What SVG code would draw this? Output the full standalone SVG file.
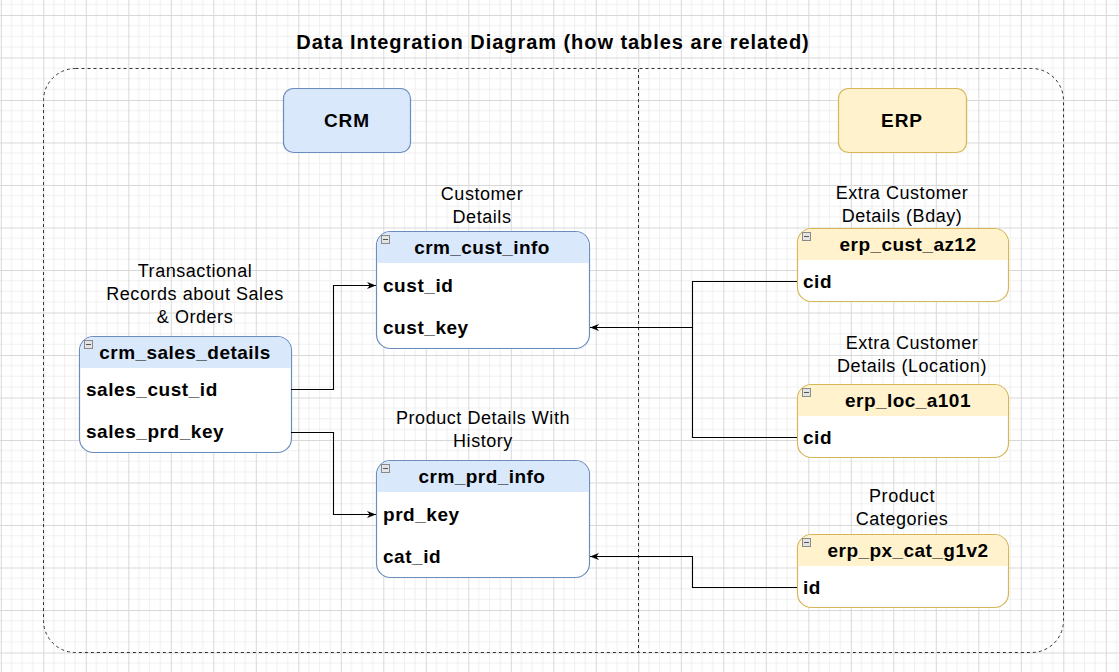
<svg xmlns="http://www.w3.org/2000/svg" width="1119" height="672" viewBox="0 0 1119 672">
<defs>
<pattern id="grid" patternUnits="userSpaceOnUse" x="0.8" y="15" width="42.5" height="42.5">
<path d="M10.625 0V42.5M21.25 0V42.5M31.875 0V42.5M0 10.625H42.5M0 21.25H42.5M0 31.875H42.5" stroke="#f0f0f0" stroke-width="1" fill="none"/>
<path d="M0.5 0V42.5M0 0.5H42.5" stroke="#d8d8d8" stroke-width="1" fill="none"/>
</pattern>
<marker id="arr" viewBox="0 0 10 10" refX="10" refY="5" markerWidth="9" markerHeight="9" markerUnits="userSpaceOnUse" orient="auto">
<path d="M0 1L10 5L0 9L3 5Z" fill="#000"/>
</marker>
</defs>
<style>
.title{font-family:"Liberation Sans",Arial,sans-serif;font-weight:bold;font-size:20px;letter-spacing:0.95px;fill:#000}
.lbl{font-family:"Liberation Sans",Arial,sans-serif;font-size:18px;letter-spacing:0.55px;fill:#000;text-anchor:middle}
.hdr{font-family:"Liberation Sans",Arial,sans-serif;font-weight:bold;font-size:19px;letter-spacing:0.45px;fill:#000;text-anchor:middle}
.fld{font-family:"Liberation Sans",Arial,sans-serif;font-weight:bold;font-size:19px;letter-spacing:0.55px;fill:#000}
.sec{font-family:"Liberation Sans",Arial,sans-serif;font-weight:bold;font-size:19px;letter-spacing:0.9px;fill:#000;text-anchor:middle}
.crmbody{fill:#fff;stroke:#6c8ebf;stroke-width:1.2}
.crmhead{fill:#dae8fc}
.erpbody{fill:#fff;stroke:#d6b656;stroke-width:1.2}
.erphead{fill:#fff2cc}
.icon{fill:#e4e4e4;stroke:#8a8a8a;stroke-width:1}
.conn{fill:none;stroke:#000;stroke-width:1.1}
</style>
<rect width="1119" height="672" fill="#fff"/>
<rect width="1119" height="672" fill="url(#grid)"/>

<text class="title" x="553" y="49" text-anchor="middle">Data Integration Diagram (how tables are related)</text>

<g id="container">
<rect x="43.5" y="68.5" width="1020" height="584" rx="32" fill="none" stroke="#333" stroke-width="1" stroke-dasharray="3,3"/>
<line x1="638.5" y1="69" x2="638.5" y2="652" stroke="#333" stroke-width="1" stroke-dasharray="3,3"/>
</g>

<g id="crm">
<rect x="283.5" y="88.5" width="127" height="64" rx="10" fill="#dae8fc" stroke="#6c8ebf" stroke-width="1.2"/>
<text class="sec" x="347" y="127">CRM</text>
</g>
<g id="erp">
<rect x="838.5" y="88.5" width="128" height="64" rx="10" fill="#fff2cc" stroke="#d6b656" stroke-width="1.2"/>
<text class="sec" x="902" y="127">ERP</text>
</g>

<g id="labels">
<text class="lbl" x="195" y="277">Transactional</text>
<text class="lbl" x="195" y="300">Records about Sales</text>
<text class="lbl" x="195" y="323">&amp; Orders</text>
<text class="lbl" x="482" y="200">Customer</text>
<text class="lbl" x="482" y="223">Details</text>
<text class="lbl" x="483" y="424">Product Details With</text>
<text class="lbl" x="483" y="447">History</text>
<text class="lbl" x="902" y="199">Extra Customer</text>
<text class="lbl" x="902" y="222">Details (Bday)</text>
<text class="lbl" x="912" y="349">Extra Customer</text>
<text class="lbl" x="912" y="372">Details (Location)</text>
<text class="lbl" x="902" y="502">Product</text>
<text class="lbl" x="902" y="525">Categories</text>
</g>

<g id="crm_sales_details">
<rect class="crmbody" x="79.5" y="336.5" width="212" height="116" rx="14"/>
<path class="crmhead" d="M80.1 368V350.5A13.4 13.4 0 0 1 93.5 337.1H277.5A13.4 13.4 0 0 1 290.9 350.5V368Z"/>
<rect class="icon" x="84.5" y="340.5" width="8" height="8"/>
<line x1="86" y1="344.5" x2="91" y2="344.5" stroke="#555"/>
<text class="hdr" x="185" y="359">crm_sales_details</text>
<text class="fld" x="86" y="396">sales_cust_id</text>
<text class="fld" x="86" y="438">sales_prd_key</text>
</g>

<g id="crm_cust_info">
<rect class="crmbody" x="376.5" y="231.5" width="213" height="117" rx="14"/>
<path class="crmhead" d="M377.1 263V245.5A13.4 13.4 0 0 1 390.5 232.1H575.5A13.4 13.4 0 0 1 588.9 245.5V263Z"/>
<rect class="icon" x="381.5" y="235.5" width="8" height="8"/>
<line x1="383" y1="239.5" x2="388" y2="239.5" stroke="#555"/>
<text class="hdr" x="482" y="254">crm_cust_info</text>
<text class="fld" x="383" y="292">cust_id</text>
<text class="fld" x="383" y="334">cust_key</text>
</g>

<g id="crm_prd_info">
<rect class="crmbody" x="376.5" y="460.5" width="213" height="117" rx="14"/>
<path class="crmhead" d="M377.1 492V474.5A13.4 13.4 0 0 1 390.5 461.1H575.5A13.4 13.4 0 0 1 588.9 474.5V492Z"/>
<rect class="icon" x="381.5" y="464.5" width="8" height="8"/>
<line x1="383" y1="468.5" x2="388" y2="468.5" stroke="#555"/>
<text class="hdr" x="482" y="483">crm_prd_info</text>
<text class="fld" x="383" y="521">prd_key</text>
<text class="fld" x="383" y="563">cat_id</text>
</g>

<g id="erp_cust_az12">
<rect class="erpbody" x="797.5" y="228.5" width="211" height="73" rx="14"/>
<path class="erphead" d="M798.1 260V242.5A13.4 13.4 0 0 1 811.5 229.1H994.5A13.4 13.4 0 0 1 1007.9 242.5V260Z"/>
<rect class="icon" x="802.5" y="232.5" width="8" height="8"/>
<line x1="804" y1="236.5" x2="809" y2="236.5" stroke="#555"/>
<text class="hdr" x="908" y="251">erp_cust_az12</text>
<text class="fld" x="803" y="288">cid</text>
</g>

<g id="erp_loc_a101">
<rect class="erpbody" x="797.5" y="384.5" width="211" height="73" rx="14"/>
<path class="erphead" d="M798.1 416V398.5A13.4 13.4 0 0 1 811.5 385.1H994.5A13.4 13.4 0 0 1 1007.9 398.5V416Z"/>
<rect class="icon" x="802.5" y="388.5" width="8" height="8"/>
<line x1="804" y1="392.5" x2="809" y2="392.5" stroke="#555"/>
<text class="hdr" x="908" y="407">erp_loc_a101</text>
<text class="fld" x="803" y="444">cid</text>
</g>

<g id="erp_px_cat_g1v2">
<rect class="erpbody" x="797.5" y="534.5" width="211" height="73" rx="14"/>
<path class="erphead" d="M798.1 566V548.5A13.4 13.4 0 0 1 811.5 535.1H994.5A13.4 13.4 0 0 1 1007.9 548.5V566Z"/>
<rect class="icon" x="802.5" y="538.5" width="8" height="8"/>
<line x1="804" y1="542.5" x2="809" y2="542.5" stroke="#555"/>
<text class="hdr" x="908" y="557">erp_px_cat_g1v2</text>
<text class="fld" x="803" y="594">id</text>
</g>

<g id="connectors">
<path class="conn" d="M291 389.5H333.5V285.5H376" marker-end="url(#arr)"/>
<path class="conn" d="M291 432.5H333.5V514.5H376" marker-end="url(#arr)"/>
<path class="conn" d="M797 281.5H692.5V437.5H797"/>
<path class="conn" d="M692.5 327.5H590" marker-end="url(#arr)"/>
<path class="conn" d="M797 587.5H692.5V556.5H590" marker-end="url(#arr)"/>
</g>
</svg>
